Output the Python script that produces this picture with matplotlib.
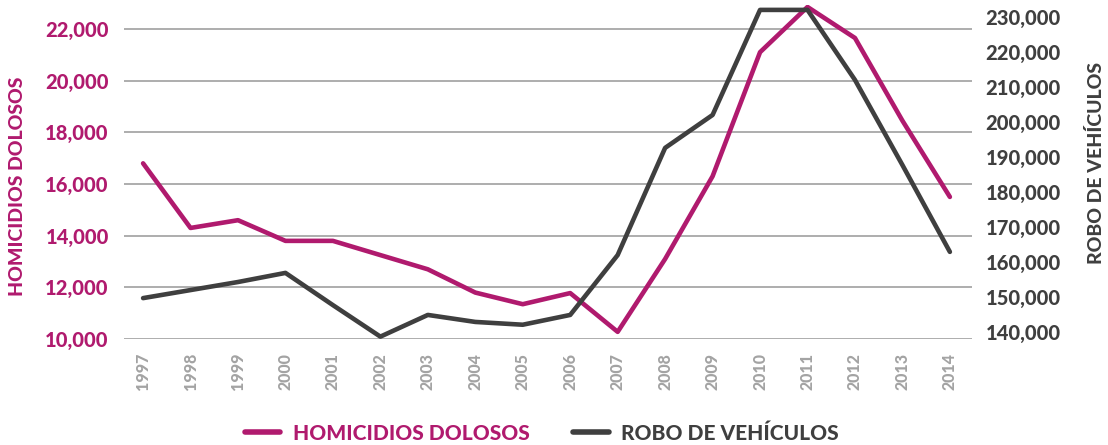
import matplotlib.pyplot as plt
from matplotlib.lines import Line2D

plt.rcParams['font.family'] = 'Lato'
plt.rcParams['font.weight'] = 'black'

# datos
years = list(range(1997, 2015))
homicidios = [16800, 14300, 14600, 13800, 13800, 13250, 12700, 11800, 11350, 11780,
              10280, 13100, 16300, 21100, 22850, 21650, 18450, 15500]
robo = [149700, 152000, 154300, 156900, 147700, 138700, 144900, 142900, 142100, 144900,
        162000, 192600, 202000, 232000, 232000, 212000, 187700, 162900]

magenta = '#b01a6e'
gris = '#3f3f3f'

fig = plt.figure(figsize=(11.08, 4.45), dpi=100)
ax = fig.add_axes([0.112, 0.238, 0.765, 0.751])
ax2 = ax.twinx()

ax.plot(years, homicidios, color=magenta, lw=3.3, solid_capstyle='round',
        solid_joinstyle='round', zorder=3)
ax2.plot(years, robo, color=gris, lw=3.3, solid_capstyle='round',
         solid_joinstyle='round', zorder=3)

ax.set_xlim(1996.6, 2014.46)
ax.set_ylim(10000, 22930)
ax2.set_ylim(138000, 233430)

ax.set_yticks(range(10000, 22001, 2000))
ax.set_yticklabels([f'{v:,}' for v in range(10000, 22001, 2000)], fontweight='black')
ax2.set_yticks(range(140000, 230001, 10000))
ax2.set_yticklabels([f'{v:,}' for v in range(140000, 230001, 10000)], fontweight='black')
ax.set_xticks(years)
ax.set_xticklabels([str(y) for y in years], rotation=90, fontweight='black')

ax.grid(axis='y', color='#a0a0a0', lw=1.2)
ax.set_axisbelow(True)
for a in (ax, ax2):
    for s in a.spines.values():
        s.set_visible(False)
    a.tick_params(length=0)

ax.tick_params(axis='y', colors=magenta, labelsize=14.5, pad=11)
ax2.tick_params(axis='y', colors=gris, labelsize=14.5, pad=10)
ax.tick_params(axis='x', colors='#a3a3a3', labelsize=11.5, pad=10)

ax.set_ylabel('HOMICIDIOS DOLOSOS', color=magenta, fontsize=14, fontweight='black')
ax.yaxis.set_label_coords(-0.1156, 0.458)
ax2.set_ylabel('ROBO DE VEHÍCULOS', color=gris, fontsize=14, fontweight='black', rotation=90)
ax2.yaxis.set_label_coords(1.136, 0.527)

handles = [Line2D([], [], color=magenta, lw=4, solid_capstyle='round'),
           Line2D([], [], color=gris, lw=4, solid_capstyle='round')]
leg = fig.legend(handles, ['HOMICIDIOS DOLOSOS', 'ROBO DE VEHÍCULOS'], loc='center',
                 bbox_to_anchor=(0.489, 0.027), ncol=2, frameon=False,
                 prop={'size': 15, 'weight': 'black'},
                 handlelength=1.7, handletextpad=0.6, columnspacing=2.1)
for t, c in zip(leg.get_texts(), [magenta, gris]):
    t.set_color(c)

fig.savefig('out.png', dpi=100)
